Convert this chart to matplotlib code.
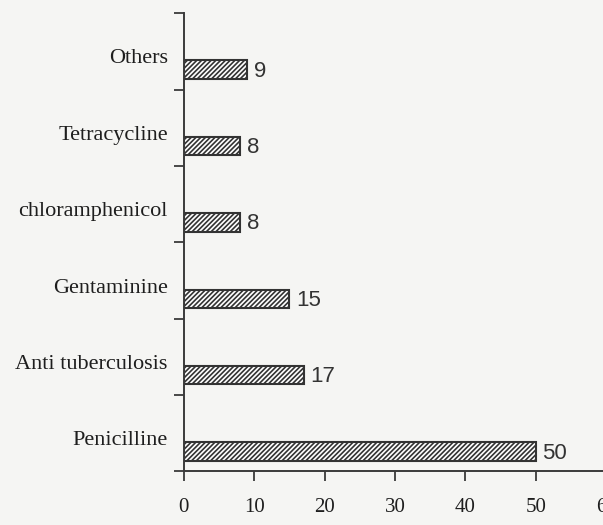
import matplotlib.pyplot as plt

# data, bottom to top
drugs = ['Penicilline', 'Anti tuberculosis', 'Gentaminine',
         'chloramphenicol', 'Tetracycline', 'Others']
counts = [50, 17, 15, 8, 8, 9]
xticks = [0, 10, 20, 30, 40, 50, 60]

plt.rcParams['hatch.linewidth'] = 1.2
plt.rcParams['hatch.color'] = '#383838'

fig = plt.figure(figsize=(6.03, 5.25), dpi=100, facecolor='#f5f5f3')
ax = fig.add_axes([0.305, 0.102, 0.7, 0.873])
ax.set_facecolor('#f5f5f3')

pos = [i + 0.26 for i in range(len(drugs))]
ax.barh(pos, counts, height=0.24, color='white', edgecolor='#333333',
        hatch='///////', linewidth=1.5)

for p, c, name in zip(pos, counts, drugs):
    ax.text(c + 0.9, p - 0.02, str(c), va='center', ha='left',
            fontsize=16, family='Liberation Sans', color='#333333')
    ax.text(-2.3, p + 0.14, name, va='center', ha='right',
            fontsize=16, family='Liberation Serif', color='#1e1e1e')

ax.set_xlim(0, 60)
ax.set_ylim(0, len(drugs))
ax.set_xticks(xticks)
ax.set_xticklabels([str(t) for t in xticks], family='Liberation Serif',
                   fontsize=15, color='#1e1e1e')
ax.set_yticks(range(len(drugs) + 1))
ax.set_yticklabels([])
ax.tick_params(axis='x', direction='out', length=7, width=1.3, pad=12,
               color='#3a3a3a')
ax.tick_params(axis='y', direction='out', length=7, width=1.3,
               color='#3a3a3a')

for s in ['top', 'right']:
    ax.spines[s].set_visible(False)
for s in ['left', 'bottom']:
    ax.spines[s].set_linewidth(1.4)
    ax.spines[s].set_color('#3a3a3a')

fig.savefig('out.png', dpi=100, facecolor=fig.get_facecolor())
